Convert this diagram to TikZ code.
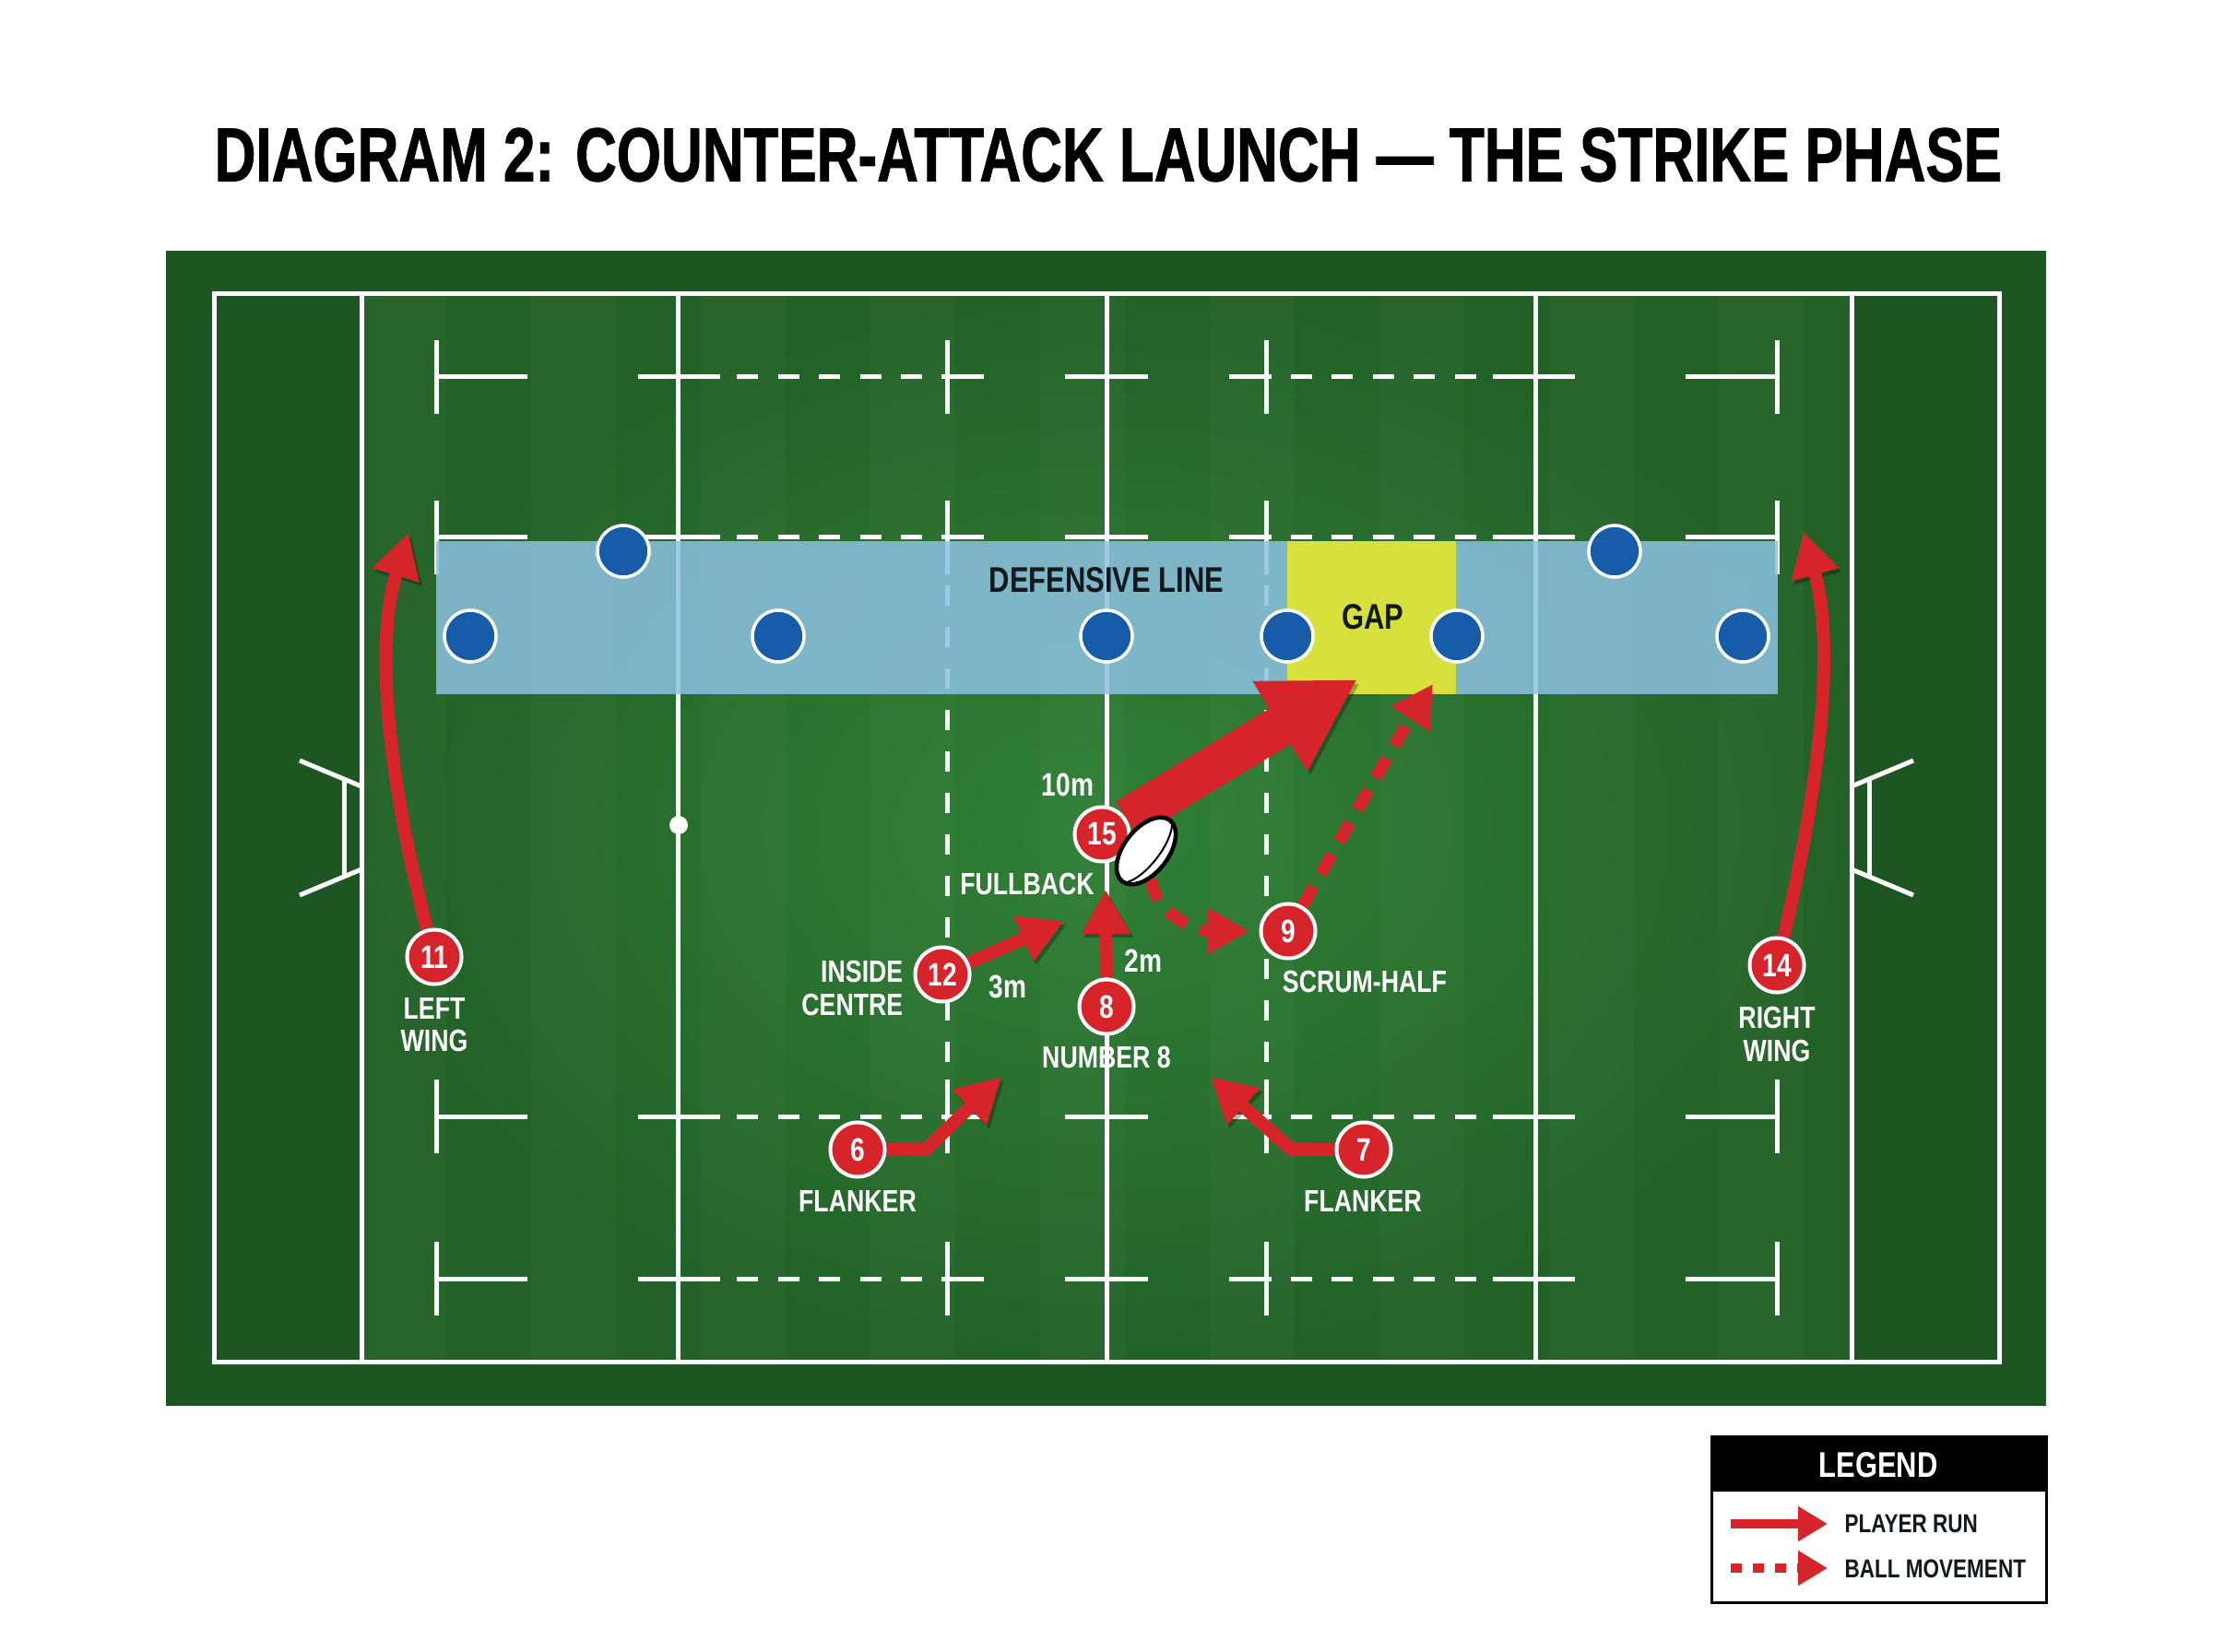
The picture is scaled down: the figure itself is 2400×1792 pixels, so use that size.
\documentclass[tikz,border=0pt]{standalone}
\usepackage{fontspec}
\usetikzlibrary{arrows.meta, shapes.geometric}
\newfontfamily\titlefont[FakeStretch=0.75, FakeBold=1]{Liberation Sans}
\newfontfamily\labelfont[FakeStretch=0.80]{Liberation Sans}
\definecolor{pitchdark}{RGB}{30,86,35}
\definecolor{pitchmid}{RGB}{34,98,40}
\definecolor{pitchlight}{RGB}{48,128,54}
\definecolor{runred}{RGB}{214,36,42}
\definecolor{defblue}{RGB}{22,92,168}
\definecolor{bandblue}{RGB}{140,194,226}
\definecolor{gapyellow}{RGB}{216,224,62}
\definecolor{inkdark}{RGB}{18,24,28}
\pgfdeclarelayer{pitch}
\pgfdeclarelayer{runs}
\pgfsetlayers{pitch,runs,main}

\begin{document}
\begin{tikzpicture}[
    x = 0.01cm, y = -0.01cm,
    pitchline/.style = {draw = white, line width = 0.05cm},
    runshadow/.style = {preaction = {draw = black, opacity = 0.28,
      transform canvas = {xshift = 0.03cm, yshift = -0.04cm}}},
    run/.style = {runshadow, draw = runred, line width = 0.14cm, -{Triangle[length=0.48cm, width=0.50cm]}},
    bigrun/.style = {runshadow, draw = runred, line width = 0.45cm, -{Triangle[length=0.98cm, width=1.07cm]}},
    ballpass/.style = {draw = runred, line width = 0.13cm, dash pattern = on 0.24cm off 0.16cm,
      -{Triangle[length=0.45cm, width=0.47cm]}},
    player/.style = {circle, fill = runred, draw = white, line width = 0.04cm, minimum size = 0.59cm,
      inner sep = 0, text = white, font = \labelfont\bfseries\fontsize{10}{10}\selectfont},
    defender/.style = {circle, fill = defblue, draw = white, line width = 0.035cm, minimum size = 0.56cm},
    tag/.style = {text = white, inner sep = 0, align = center,
      font = \labelfont\bfseries\fontsize{9.5}{10}\selectfont},
    dist/.style = {tag, font = \labelfont\bfseries\fontsize{10}{10}\selectfont},
    bandtag/.style = {text = inkdark, inner sep = 0, font = \labelfont\bfseries\fontsize{11}{11}\selectfont},
    legendtag/.style = {text = inkdark, inner sep = 0, anchor = west,
      font = \labelfont\bfseries\fontsize{8}{8}\selectfont}
  ]
  \useasboundingbox (0,0) rectangle (2400,1792);

  \begin{pgfonlayer}{pitch}
    % ground and stripes
    \fill[white] (0,0) rectangle (2400,1792);
    \fill[pitchdark] (180,272) rectangle (2219,1525);
    \shade[inner color = pitchlight, outer color = pitchmid] (392,319) rectangle (2008,1477);
    \foreach \sx in {392,576,...,1900}
      \fill[white, opacity = 0.025] (\sx,319) rectangle +(92,1158);
    % markings
    \draw[pitchline] (232,319) rectangle (2168,1477);
    \foreach \lx in {392,735,1200,1665,2008}
      \draw[pitchline] (\lx,319) -- (\lx,1477);
    \foreach \m in {1,-1} {
      \begin{scope}[shift = {(1200,0)}, xscale = \m]
        \foreach \ry in {409,583,1211,1387} {
          \draw[pitchline] (-727,\ry-40) -- (-727,\ry+40);
          \draw[pitchline] (-727,\ry) -- (-628,\ry);
          \draw[pitchline] (-508,\ry) -- (-419,\ry);
          \foreach \dx in {-401,-356,-312,-267,-223}
            \draw[pitchline] (\dx,\ry) -- ++(23,0);
          \draw[pitchline] (-179,\ry) -- (-133,\ry);
          \draw[pitchline] (-173,\ry-40) -- (-173,\ry+40);
          \draw[pitchline] (-45,\ry) -- (0,\ry);
        }
        \foreach \dy in {635,680,...,1130}
          \draw[pitchline] (-173,\dy) -- ++(0,22);
        % posts
        \draw[pitchline] (-875,825) -- (-808,853);
        \draw[pitchline] (-875,971) -- (-808,943);
        \draw[pitchline] (-827,845) -- (-827,951);
      \end{scope}
    }
    \fill[white] (736,895) circle (10);
    % defensive band
    \fill[bandblue, opacity = 0.85] (473,587) rectangle (1928,753);
    \fill[gapyellow] (1396,587) rectangle (1579,753);
  \end{pgfonlayer}

  \node[font = \titlefont\bfseries\fontsize{23.5}{23.5}\selectfont, inner sep = 0] (title) at (1202,168)
    {DIAGRAM 2: COUNTER-ATTACK LAUNCH — THE STRIKE PHASE};

  \node[bandtag] (band_lbl) at (1200,629) {DEFENSIVE LINE};
  \node[bandtag] (gap_lbl) at (1489,669) {GAP};
  \foreach \dx/\dy [count=\i] in {510/690, 676/598, 844/690, 1200/690, 1396/690, 1580/690, 1751/598, 1890/690}
    \node[defender] (d\i) at (\dx,\dy) {};

  \node[player] (p15) at (1195,905) {15};
  \node[player] (p9) at (1397,1010) {9};
  \node[player] (p8) at (1200,1092) {8};
  \node[player] (p12) at (1022,1057) {12};
  \node[player] (p6) at (930,1247) {6};
  \node[player] (p7) at (1479,1247) {7};
  \node[player] (p11) at (471,1038) {11};
  \node[player] (p14) at (1927,1047) {14};

  \node[dist] (dist15) at (1158,851) {10m};
  \node[tag] (fullback_lbl) at (1114,959) {FULLBACK};
  \node[dist] (dist8) at (1240,1042) {2m};
  \node[dist] (dist12) at (1093,1070) {3m};
  \node[tag] (scrum_lbl) at (1480,1065) {SCRUM-HALF};
  \node[tag] (number8_lbl) at (1200,1147) {NUMBER 8};
  \node[tag, align = right, anchor = east] (centre_lbl) at (980,1072) {INSIDE\\CENTRE};
  \node[tag] (flank6_lbl) at (930,1303) {FLANKER};
  \node[tag] (flank7_lbl) at (1478,1303) {FLANKER};
  \node[tag] (lwing_lbl) at (471,1112) {LEFT\\WING};
  \node[tag] (rwing_lbl) at (1927,1122) {RIGHT\\WING};

  \node[ellipse, draw = black, fill = white, line width = 0.045cm, minimum width = 0.84cm,
    minimum height = 0.48cm, inner sep = 0, rotate = 52] (ball) at (1243,923) {};
  \draw[black, line width = 0.02cm] (ball.west) .. controls (ball.south west) and (ball.south east) .. (ball.east);

  \coordinate (gap_run) at (1472,737);
  \coordinate (gap_ball) at (1554,742);
  \coordinate (pass9) at (1355,1010);
  \coordinate (run12) at (1154,999);
  \coordinate (run8) at (1199,965);
  \coordinate (turn6) at (1004,1247);
  \coordinate (run6) at (1086,1168);
  \coordinate (turn7) at (1400,1247);
  \coordinate (run7) at (1313,1168);
  \coordinate (run11) at (443,578);
  \coordinate (run14) at (1956,577);

  \begin{pgfonlayer}{runs}
    \draw[bigrun] (p15) -- (gap_run);
    \draw[ballpass] (ball) .. controls (1255,995) and (1300,1010) .. (pass9);
    \draw[ballpass] (p9) .. controls (1460,900) and (1510,810) .. (gap_ball);
    \draw[run] (p12) -- (run12);
    \draw[run] (p8) -- (run8);
    \draw[run] (p6) -- (turn6) -- (run6);
    \draw[run] (p7) -- (turn7) -- (run7);
    \draw[run] (p11) .. controls (435,900) and (400,720) .. (run11);
    \draw[run] (p14) .. controls (1962,900) and (1995,720) .. (run14);
  \end{pgfonlayer}

  % legend
  \draw[black, fill = white, line width = 0.03cm] (1856,1558) rectangle (2219,1738);
  \fill[black] (1856,1558) rectangle (2219,1618);
  \node[text = white, inner sep = 0, font = \labelfont\bfseries\fontsize{11}{11}\selectfont] (legend_title) at (2037,1589) {LEGEND};
  \coordinate (legend_run_a) at (1877,1653);
  \coordinate (legend_run_b) at (1982,1653);
  \coordinate (legend_ball_a) at (1877,1701);
  \coordinate (legend_ball_b) at (1982,1701);
  \draw[draw = runred, line width = 0.10cm, -{Triangle[length=0.32cm, width=0.36cm]}] (legend_run_a) -- (legend_run_b);
  \draw[draw = runred, line width = 0.10cm, dash pattern = on 0.12cm off 0.12cm,
    -{Triangle[length=0.32cm, width=0.36cm]}] (legend_ball_a) -- (legend_ball_b);
  \node[legendtag] (legend_run) at (2000,1653) {PLAYER RUN};
  \node[legendtag] (legend_ball) at (2000,1702) {BALL MOVEMENT};
\end{tikzpicture}
\end{document}
